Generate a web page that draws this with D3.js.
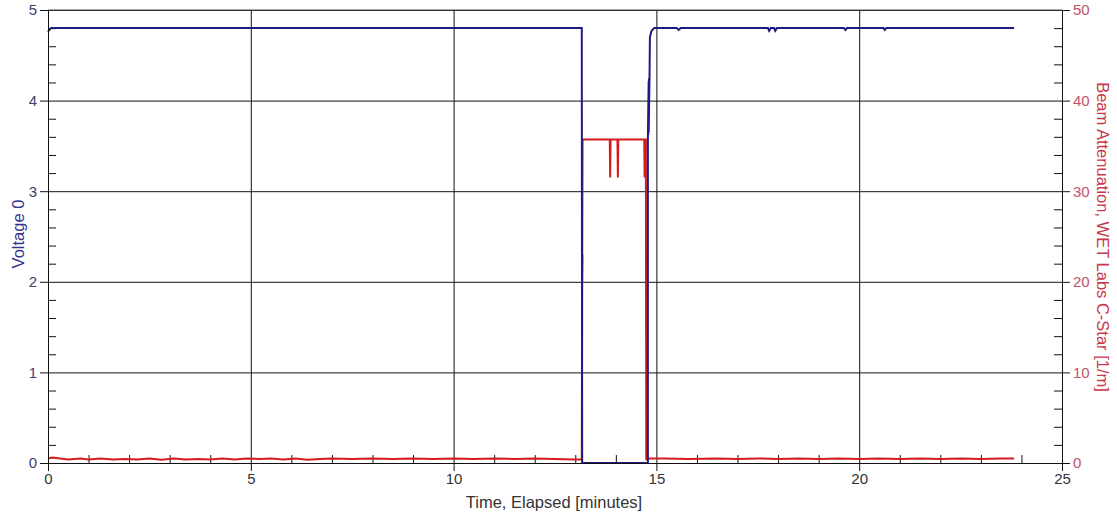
<!DOCTYPE html>
<html>
<head>
<meta charset="utf-8">
<script src="https://cdn.jsdelivr.net/npm/d3@7"></script>
<style>
  body { margin: 0; background: #fff; }
  text { font-family: Arial, "Liberation Sans", sans-serif; }
</style>
</head>
<body>
<div id="chart"></div>
<script>
// DATA
// Voltage 0 (left axis)
const voltTime = [0, 0.03, 0.08, 13.16, 13.17, 14.79, 14.79, 14.81, 14.80, 14.82, 14.81, 14.83, 14.84, 14.88, 14.95, 15.1,
  15.5, 15.55, 15.6, 17.75, 17.78, 17.82, 17.9, 17.93, 17.97, 19.62, 19.66, 19.7, 20.6, 20.63, 20.67, 23.82];
const voltValue = [4.76, 4.78, 4.8, 4.8, 0, 0, 3.6, 4.22, 3.62, 4.25, 3.65, 4.25, 4.7, 4.77, 4.8, 4.8,
  4.8, 4.78, 4.8, 4.8, 4.77, 4.8, 4.8, 4.77, 4.8, 4.8, 4.78, 4.8, 4.8, 4.78, 4.8, 4.8];

// Beam Attenuation (right axis)
const attenTime = [0, 0.1, 0.3, 0.5, 0.8, 1.0, 1.3, 1.6, 1.9, 2.2, 2.5, 2.8, 3.1, 3.4, 3.7, 4.0, 4.3, 4.6, 4.9,
  5.2, 5.5, 5.8, 6.1, 6.4, 6.7, 7.0, 7.5, 8.0, 8.5, 9.0, 9.5, 10.0, 10.5, 11.0, 11.5, 12.0, 12.5, 13.0, 13.16,
  13.17, 13.18, 13.17, 13.18, 13.85, 13.86, 13.87, 14.04, 14.05, 14.06, 14.70, 14.71, 14.72, 14.74, 14.75, 14.77,
  14.78, 14.8, 15.2, 15.8, 16.5, 17.0, 17.5, 18.0, 18.5, 19.0, 19.5, 20.0, 20.5, 21.0, 21.5, 22.0, 22.5, 23.0, 23.5, 23.82];
const attenValue = [0.5, 0.6, 0.5, 0.4, 0.5, 0.4, 0.5, 0.4, 0.45, 0.4, 0.5, 0.35, 0.5, 0.4, 0.45, 0.4, 0.5, 0.4, 0.5,
  0.45, 0.5, 0.4, 0.5, 0.35, 0.45, 0.5, 0.45, 0.5, 0.45, 0.5, 0.45, 0.5, 0.45, 0.5, 0.45, 0.5, 0.45, 0.4, 0.4,
  19, 23, 20, 35.7, 35.7, 31.5, 35.7, 35.7, 31.5, 35.7, 35.7, 31.5, 35.7, 35.7, 0.3, 1.2,
  0.5, 0.5, 0.5, 0.45, 0.5, 0.45, 0.5, 0.45, 0.5, 0.45, 0.5, 0.45, 0.5, 0.45, 0.5, 0.45, 0.5, 0.45, 0.5, 0.5];

// Ticks
const xTicks = [0, 5, 10, 15, 20, 25];
const xMinor = [1, 2, 3, 4, 6, 7, 8, 9, 11, 12, 13, 14, 16, 17, 18, 19, 21, 22, 23, 24];
const voltTicks = [0, 1, 2, 3, 4, 5];
const voltMinor = [0.2, 0.4, 0.6, 0.8, 1.2, 1.4, 1.6, 1.8, 2.2, 2.4, 2.6, 2.8, 3.2, 3.4, 3.6, 3.8, 4.2, 4.4, 4.6, 4.8];
const attenTicks = [0, 10, 20, 30, 40, 50];
const attenMinor = [2, 4, 6, 8, 12, 14, 16, 18, 22, 24, 26, 28, 32, 34, 36, 38, 42, 44, 46, 48];

drawChart();

function drawChart() {
  const W = 1117, H = 515;
  const margin = {left: 48, top: 10, right: 55, bottom: 52};
  const x0 = margin.left, x1 = W - margin.right;
  const y0 = H - margin.bottom, y1 = margin.top;

  const svg = d3.select('#chart').append('svg')
    .attr('width', W).attr('height', H);
  svg.append('rect').attr('width', W).attr('height', H).attr('fill', '#fff');

  const x = d3.scaleLinear().domain([0, 25]).range([x0, x1]);
  const yV = d3.scaleLinear().domain([0, 5]).range([y0, y1]);
  const yA = d3.scaleLinear().domain([0, 50]).range([y0, y1]);

  // grid
  const grid = svg.append('g').attr('class', 'grid');
  grid.append('g').attr('transform', 'translate(0,' + y0 + ')')
    .call(d3.axisBottom(x).tickValues(xTicks).tickSize(-(y0 - y1)).tickFormat(''));
  grid.append('g').attr('transform', 'translate(' + x0 + ',0)')
    .call(d3.axisLeft(yV).tickValues(voltTicks).tickSize(-(x1 - x0)).tickFormat(''));
  grid.selectAll('.domain').remove();
  grid.selectAll('line').attr('stroke', '#111').attr('stroke-width', 1);

  // minor ticks (inside)
  const minor = svg.append('g');
  minor.append('g').attr('transform', 'translate(0,' + y0 + ')')
    .call(d3.axisBottom(x).tickValues(xMinor).tickSize(-8).tickFormat(''));
  minor.append('g').attr('transform', 'translate(' + x0 + ',0)')
    .call(d3.axisLeft(yV).tickValues(voltMinor).tickSize(-8).tickFormat(''));
  minor.append('g').attr('transform', 'translate(' + x1 + ',0)')
    .call(d3.axisRight(yA).tickValues(attenMinor).tickSize(-8).tickFormat(''));
  minor.selectAll('.domain').remove();
  minor.selectAll('line').attr('stroke', '#111');

  // lines
  const attenLine = d3.line().x((d, i) => x(attenTime[i])).y(d => yA(d));
  const voltLine = d3.line().x((d, i) => x(voltTime[i])).y(d => yV(d));

  svg.append('path').datum(attenValue)
    .attr('d', attenLine).attr('fill', 'none')
    .attr('stroke', '#d41c1c').attr('stroke-width', 2);

  svg.append('path').datum(voltValue)
    .attr('d', voltLine).attr('fill', 'none')
    .attr('stroke', '#1c1c84').attr('stroke-width', 2);

  // major axes
  const axB = svg.append('g').attr('transform', 'translate(0,' + y0 + ')')
    .call(d3.axisBottom(x).tickValues(xTicks).tickSize(8).tickPadding(2));
  axB.selectAll('text').attr('fill', '#333').style('font-size', '15px');

  const axL = svg.append('g').attr('transform', 'translate(' + x0 + ',0)')
    .call(d3.axisLeft(yV).tickValues(voltTicks).tickFormat(d3.format('d')).tickSize(8).tickPadding(3));
  axL.selectAll('text').attr('fill', '#3e3e72').style('font-size', '15px');

  const axR = svg.append('g').attr('transform', 'translate(' + x1 + ',0)')
    .call(d3.axisRight(yA).tickValues(attenTicks).tickSize(8).tickPadding(3));
  axR.selectAll('text').attr('fill', '#c4506a').style('font-size', '15px');

  svg.selectAll('.domain').attr('stroke', '#111');
  svg.selectAll('.tick line').attr('stroke', '#111');

  // top border
  svg.append('line').attr('x1', x0).attr('x2', x1).attr('y1', y1).attr('y2', y1)
    .attr('stroke', '#555');

  // titles
  svg.append('text').attr('x', 554).attr('y', 508)
    .attr('text-anchor', 'middle').attr('fill', '#333').style('font-size', '16.5px')
    .text('Time, Elapsed [minutes]');

  svg.append('text').attr('transform', 'translate(24,' + 234 + ') rotate(-90)')
    .attr('text-anchor', 'middle').attr('fill', '#34348c').style('font-size', '16.5px')
    .text('Voltage 0');

  svg.append('text').attr('transform', 'translate(1097,' + 237 + ') rotate(90)')
    .attr('text-anchor', 'middle').attr('fill', '#c83848').style('font-size', '16.5px')
    .text('Beam Attenuation, WET Labs C-Star [1/m]');
}
</script>
</body>
</html>
